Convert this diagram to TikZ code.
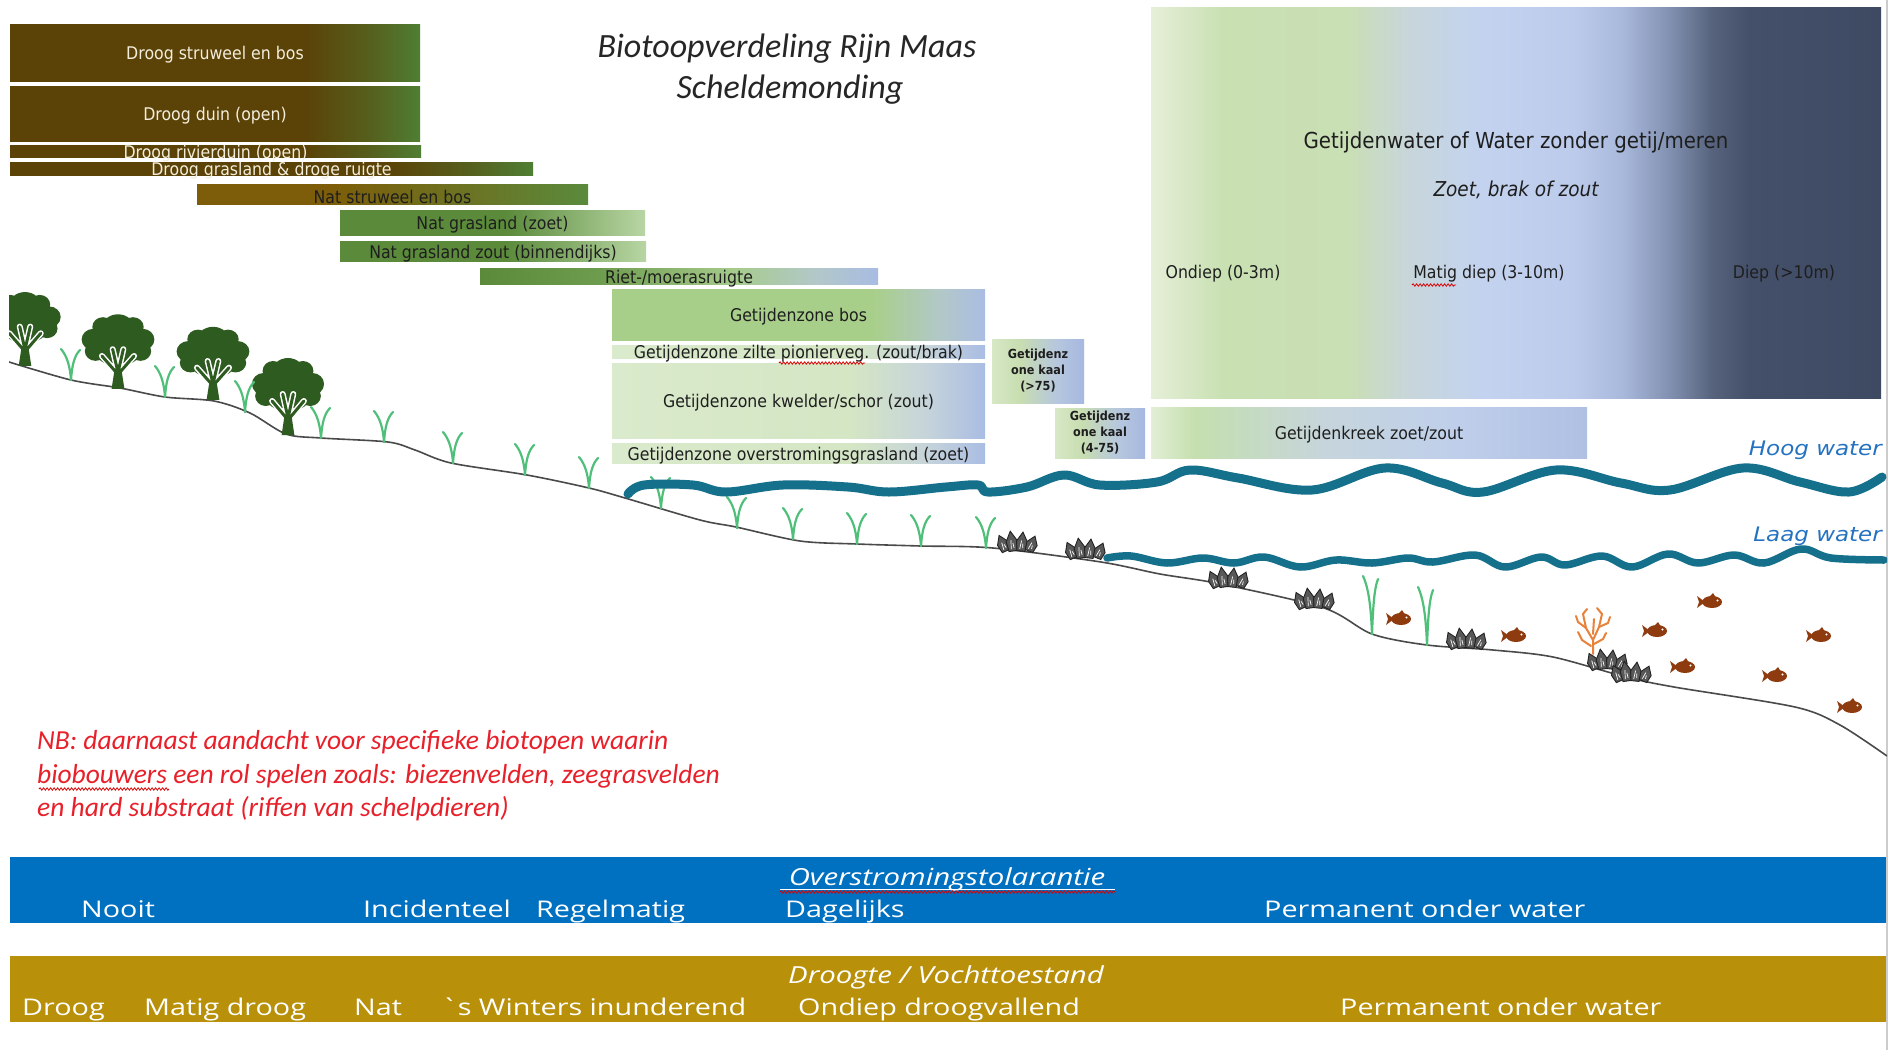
\documentclass[tikz,border=0pt]{standalone}
\usepackage{fontspec}
\setmainfont{DejaVu Sans}
\newfontfamily\zonefont[FakeStretch=0.9]{DejaVu Sans}
\newfontfamily\tidefont[FakeStretch=1.15]{DejaVu Sans}
\newfontfamily\notefont{Carlito}
\newfontfamily\barfont[FakeStretch=1.25]{Open Sans}
\usetikzlibrary{decorations.pathmorphing}

% ---------- colours ----------
\definecolor{ink}{HTML}{1E1E1E}
\definecolor{cream}{HTML}{F3EEDC}
\definecolor{dryBrown}{HTML}{5B4207}
\definecolor{dryMid}{HTML}{56601E}
\definecolor{dryGreen}{HTML}{4F7E33}
\definecolor{shrubGold}{HTML}{7D5D09}
\definecolor{shrubMid}{HTML}{6B7424}
\definecolor{shrubGreen}{HTML}{5A8A3C}
\definecolor{grassDark}{HTML}{5A8A3A}
\definecolor{grassLight}{HTML}{B8D6A4}
\definecolor{reedA}{HTML}{6E9C4E}
\definecolor{reedMid}{HTML}{A6CB8C}
\definecolor{reedGrey}{HTML}{B2C8C8}
\definecolor{reedBlue}{HTML}{A8BCE2}
\definecolor{forestGreen}{HTML}{A8CF8A}
\definecolor{paleGreen}{HTML}{DAEACC}
\definecolor{paleGreenB}{HTML}{D4E6C4}
\definecolor{paleGrey}{HTML}{C6D4DA}
\definecolor{paleBlue}{HTML}{AABDE3}
\definecolor{bareA}{HTML}{D7E8C6}
\definecolor{bareB}{HTML}{C8DDB0}
\definecolor{bareC}{HTML}{B6C7DE}
\definecolor{bareD}{HTML}{A6B8E0}
\definecolor{creekA}{HTML}{E2EED5}
\definecolor{creekB}{HTML}{C5DFAF}
\definecolor{creekC}{HTML}{C6D5DC}
\definecolor{creekD}{HTML}{BFCFEB}
\definecolor{creekE}{HTML}{AFC0E3}
\definecolor{wA}{HTML}{E6EFD8}
\definecolor{wB}{HTML}{C8E0B2}
\definecolor{wC}{HTML}{C9DFB4}
\definecolor{wD}{HTML}{C8D6DA}
\definecolor{wE}{HTML}{C3D3EF}
\definecolor{wF}{HTML}{BCCBEB}
\definecolor{wG}{HTML}{A9B9DC}
\definecolor{wH}{HTML}{8291B1}
\definecolor{wI}{HTML}{56627C}
\definecolor{wJ}{HTML}{44506A}
\definecolor{wK}{HTML}{3E4A62}
\definecolor{treegreen}{HTML}{2E5B20}
\definecolor{bladegreen}{HTML}{4FBF7A}
\definecolor{tide}{HTML}{15708C}
\definecolor{tidetext}{HTML}{2472C0}
\definecolor{groundgrey}{HTML}{4A4A4A}
\definecolor{shellgray}{HTML}{585858}
\definecolor{shelldark}{HTML}{222222}
\definecolor{fishbrown}{HTML}{8E3B10}
\definecolor{coralorange}{HTML}{E8823A}
\definecolor{noteRed}{HTML}{E8202A}
\definecolor{floodblue}{HTML}{0070C0}
\definecolor{drygold}{HTML}{B8900A}

% ---------- gradients (box spans 25bp..75bp) ----------
\pgfdeclarehorizontalshading{shDry}{100bp}{color(0bp)=(dryBrown); color(25bp)=(dryBrown); color(61bp)=(dryBrown); color(69bp)=(dryMid); color(75bp)=(dryGreen); color(100bp)=(dryGreen)}
\pgfdeclarehorizontalshading{shShrub}{100bp}{color(0bp)=(shrubGold); color(25bp)=(shrubGold); color(42bp)=(shrubGold); color(60bp)=(shrubMid); color(75bp)=(shrubGreen); color(100bp)=(shrubGreen)}
\pgfdeclarehorizontalshading{shGrass}{100bp}{color(0bp)=(grassDark); color(25bp)=(grassDark); color(52bp)=(grassDark); color(75bp)=(grassLight); color(100bp)=(grassLight)}
\pgfdeclarehorizontalshading{shReed}{100bp}{color(0bp)=(grassDark); color(25bp)=(grassDark); color(40bp)=(reedA); color(57bp)=(reedMid); color(67bp)=(reedGrey); color(75bp)=(reedBlue); color(100bp)=(reedBlue)}
\pgfdeclarehorizontalshading{shForest}{100bp}{color(0bp)=(forestGreen); color(25bp)=(forestGreen); color(60bp)=(forestGreen); color(69bp)=(reedGrey); color(75bp)=(paleBlue); color(100bp)=(paleBlue)}
\pgfdeclarehorizontalshading{shPale}{100bp}{color(0bp)=(paleGreen); color(25bp)=(paleGreen); color(57bp)=(paleGreenB); color(67bp)=(paleGrey); color(75bp)=(paleBlue); color(100bp)=(paleBlue)}
\pgfdeclarehorizontalshading{shBare}{100bp}{color(0bp)=(bareA); color(25bp)=(bareA); color(40bp)=(bareB); color(60bp)=(bareC); color(75bp)=(bareD); color(100bp)=(bareD)}
\pgfdeclarehorizontalshading{shCreek}{100bp}{color(0bp)=(creekA); color(25bp)=(creekA); color(30bp)=(creekB); color(45bp)=(creekC); color(60bp)=(creekD); color(75bp)=(creekE); color(100bp)=(creekE)}
\pgfdeclarehorizontalshading{shWater}{100bp}{color(0bp)=(wA); color(25bp)=(wA); color(30bp)=(wB); color(38.5bp)=(wC); color(42.5bp)=(wD); color(47.5bp)=(wE); color(54bp)=(wF); color(57.25bp)=(wG); color(60.5bp)=(wH); color(63.5bp)=(wI); color(66bp)=(wJ); color(75bp)=(wK); color(100bp)=(wK)}

\tikzset{
  zone/.style={inner sep=0, outer sep=0, anchor=north west, shade},
  zonetext/.style={inner sep=0, text=ink, yshift=-2.5pt, font=\zonefont\fontsize{17.5}{21}\selectfont},
  drytext/.style={zonetext, text=cream},
  baretext/.style={inner sep=0, text=ink, align=center, font=\zonefont\bfseries\fontsize{12.5}{16}\selectfont},
  bigtext/.style={inner sep=0, text=ink, yshift=-2.5pt, font=\zonefont\fontsize{22}{26}\selectfont},
  titletext/.style={inner sep=0, text=black!85, anchor=base, font=\notefont\itshape\fontsize{34}{40}\selectfont},
  notetext/.style={inner sep=0, text=noteRed, anchor=base west, font=\notefont\itshape\fontsize{27.5}{33}\selectfont},
  tidelabel/.style={inner sep=0, text=tidetext, anchor=base east, font=\tidefont\itshape\fontsize{20}{24}\selectfont},
  bartext/.style={inner sep=0, text=white, anchor=base west, font=\barfont\fontsize{23}{28}\selectfont},
  bartitle/.style={inner sep=0, text=white, anchor=base, font=\barfont\itshape\fontsize{23.5}{28}\selectfont},
  squiggle/.style={draw=red!85!black, line width=0.8, decorate, decoration={snake, amplitude=1.2, segment length=3.5}},
  groundline/.style={draw=groundgrey, line width=1.6},
  hightide/.style={draw=tide, line width=9, line cap=round, line join=round},
  lowtide/.style={draw=tide, line width=7.5, line cap=round, line join=round},
  blade/.style={draw=bladegreen, line width=2.2, line cap=round},
  coralline/.style={draw=coralorange, line width=2, line cap=round, line join=round},
  treepic/.pic={
    \fill[treegreen]
      (0,-60) circle[radius=16] (-14,-63) circle[radius=10] (14,-63) circle[radius=10]
      (0,-67) circle[radius=9] (-23,-50) circle[radius=11] (23,-50) circle[radius=11]
      (-21,-38) circle[radius=10] (21,-38) circle[radius=10]
      (-9,-35) circle[radius=10] (9,-35) circle[radius=10] (0,-46) circle[radius=16];
    \draw[white, line width=6, line cap=round]
      (0,-14) -- (-15,-33) (0,-14) -- (15,-33) (0,-16) -- (-5,-40) (0,-16) -- (5,-40);
    \draw[treegreen, line width=3, line cap=round]
      (0,-14) -- (-15,-33) (0,-14) -- (15,-33) (0,-16) -- (-5,-40) (0,-16) -- (5,-40);
    \fill[treegreen] (-6,1) -- (6,1) -- (3.5,-17) -- (-3.5,-17) -- cycle;
  },
  grasspic/.pic={
    \draw[blade] (0,0) .. controls (-1,-14) and (-4,-24) .. (-10,-31);
    \draw[blade] (0,0) .. controls (1,-14) and (3,-24) .. (9,-30);
  },
  seagrasspic/.pic={
    \draw[blade] (0,0) .. controls (-1,-25) and (-3,-45) .. (-9,-58);
    \draw[blade] (0,0) .. controls (1,-25) and (2,-45) .. (6,-55);
  },
  musselpic/.pic={
    \foreach \a/\d/\h in {24/-12/17, 8/-5/20, -6/3/19, -22/11/16}{
      \filldraw[fill=shellgray, draw=shelldark, line width=0.9, shift={(\d,0)}, rotate=\a]
        (-4,0) -- (-5.5,-0.5*\h) -- (0,-\h) -- (5.5,-0.5*\h) -- (4,0) -- cycle;
      \draw[white, line width=0.7, shift={(\d,0)}, rotate=\a] (-1.5,-2) -- (-0.5,-0.55*\h) (1.5,-3) -- (1,-0.4*\h);
    }
  },
  fishpic/.pic={
    \fill[fishbrown] (0,0) ellipse[x radius=10, y radius=6];
    \fill[fishbrown] (-7,0) -- (-15,-6) -- (-13,0) -- (-15,6) -- cycle;
    \fill[fishbrown] (-4,-4) -- (1,-9) -- (4,-4) -- cycle;
    \fill[white] (5.5,-1.5) circle[radius=1.2];
  },
  coralpic/.pic={
    \draw[coralline] (0,0) -- (0,-14) -- (-7,-26) -- (-10,-40);
    \draw[coralline] (0,-14) -- (6,-27) -- (9,-40);
    \draw[coralline] (-7,-26) -- (-15,-32) -- (-17,-38);
    \draw[coralline] (6,-27) -- (15,-31) -- (17,-37);
    \draw[coralline] (-2,-8) -- (-11,-14) -- (-15,-22);
    \draw[coralline] (1,-10) -- (10,-15) -- (13,-21);
    \draw[coralline] (-10,-40) -- (-6,-45);
    \draw[coralline] (9,-40) -- (4,-46);
    \draw[coralline] (0,-20) -- (1,-35);
  }
}

\begin{document}
\begin{tikzpicture}[x=1pt,y=-1pt]
\useasboundingbox (0,0) rectangle (1896,1050);
\fill[white] (0,0) rectangle (1896,1050);
\draw[black!20, line width=1.5] (1887,0) -- (1887,1050);

% ---------- title ----------
\node[titletext] (title1) at (787,57) {Biotoopverdeling Rijn Maas};
\node[titletext] (title2) at (790,98) {Scheldemonding};

% ---------- dry and wet land biotopes ----------
\node[zone, shading=shDry, minimum width=410, minimum height=57] (dry1) at (10,24) {};
\node[zone, shading=shDry, minimum width=410, minimum height=55] (dry2) at (10,86) {};
\node[zone, shading=shDry, minimum width=411, minimum height=12] (dry3) at (10,145) {};
\node[zone, shading=shDry, minimum width=523, minimum height=13] (dry4) at (10,162) {};
\node[zone, shading=shShrub, minimum width=391, minimum height=20] (wet1) at (197,184) {};
\node[zone, shading=shGrass, minimum width=305, minimum height=25] (wet2) at (340,210) {};
\node[zone, shading=shGrass, minimum width=306, minimum height=20] (wet3) at (340,241) {};
\node[zone, shading=shReed, minimum width=398, minimum height=16] (reed) at (480,268) {};

\node[drytext] (dry1t) at (dry1.center) {Droog struweel en bos};
\node[drytext] (dry2t) at (dry2.center) {Droog duin (open)};
\node[drytext] (dry3t) at (dry3.center) {Droog rivierduin (open)};
\node[drytext] (dry4t) at (dry4.center) {Droog grasland \& droge ruigte};
\node[zonetext] (wet1t) at (wet1.center) {Nat struweel en bos};
\node[zonetext] (wet2t) at (wet2.center) {Nat grasland (zoet)};
\node[zonetext] (wet3t) at (wet3.center) {Nat grasland zout (binnendijks)};
\node[zonetext] (reedt) at (reed.center) {Riet-/moerasruigte};

% ---------- tidal zone biotopes ----------
\node[zone, shading=shForest, minimum width=373, minimum height=51] (tbos) at (612,289) {};
\node[zone, shading=shPale, minimum width=373, minimum height=13] (tpio) at (612,345) {};
\node[zone, shading=shPale, minimum width=373, minimum height=75] (tkw) at (612,363) {};
\node[zone, shading=shPale, minimum width=373, minimum height=20] (tover) at (612,443) {};
\node[zone, shading=shBare, minimum width=92, minimum height=64] (bare1) at (992,339) {};
\node[zone, shading=shBare, minimum width=90, minimum height=50] (bare2) at (1055,408) {};

\node[zonetext] (tbost) at (tbos.center) {Getijdenzone bos};
\node[zonetext] (tpiot) at (tpio.center) {Getijdenzone zilte pionierveg. (zout/brak)};
\node[zonetext] (tkwt) at (tkw.center) {Getijdenzone kwelder/schor (zout)};
\node[zonetext] (tovert) at (tover.center) {Getijdenzone overstromingsgrasland (zoet)};
\node[baretext] (bare1t) at (bare1.center) {Getijdenz\\one kaal\\(>75)};
\node[baretext] (bare2t) at (bare2.center) {Getijdenz\\one kaal\\(4-75)};

% ---------- open water ----------
\node[zone, shading=shWater, minimum width=730, minimum height=391] (water) at (1151,7) {};
\node[zone, shading=shCreek, minimum width=436, minimum height=51] (creek) at (1151,407) {};
\node[bigtext] (watert) at (1516,140) {Getijdenwater of Water zonder getij/meren};
\node[bigtext, font=\zonefont\itshape\fontsize{20.5}{24}\selectfont] (watersalt) at (1516,187) {Zoet, brak of zout};
\node[zonetext] (depth1) at (1223,271) {Ondiep (0-3m)};
\node[zonetext] (depth2) at (1489,271) {Matig diep (3-10m)};
\node[zonetext] (depth3) at (1784,271) {Diep (>10m)};
\node[zonetext] (creekt) at (creek.center) {Getijdenkreek zoet/zout};

% spelling marks
\draw[squiggle] (779,363) -- (865,363);
\draw[squiggle] (1412,285) -- (1456,285);

% ---------- landscape profile ----------
\begin{scope}
\clip (9,0) rectangle (1887,850);
\draw[groundline] plot[smooth, tension=0.5] coordinates {
  (9,362) (71,380) (120,388) (165,397) (214,401) (250,413) (286,434) (321,438)
  (388,442) (415,450) (451,463) (527,475) (589,488) (625,498) (700,520) (736,527)
  (800,541) (857,544) (921,546) (993,548) (1101,562) (1160,574) (1221,584)
  (1324,608) (1372,634) (1427,645) (1493,650) (1553,657) (1626,677) (1674,687)
  (1795,707) (1840,725) (1887,756)};

\pic[xscale=1.05, yscale=0.96] at (25,365) {treepic};
\pic[xscale=1.07, yscale=0.97] at (118,388) {treepic};
\pic[xscale=1.07, yscale=0.95] at (213,399) {treepic};
\pic[xscale=1.06, yscale=1.0] at (288,434) {treepic};

\foreach \gx/\gy in {71/380, 165/397, 245/412, 321/438, 384/442, 453/463, 525/475,
                     589/488, 661/508, 737/528, 793/539, 857/544, 921/546, 986/548}
  \pic at (\gx,\gy) {grasspic};
\pic at (1372,634) {seagrasspic};
\pic at (1427,645) {seagrasspic};

\foreach \mx/\my in {1018/551, 1086/558, 1229/587, 1315/608, 1467/648, 1608/669, 1632/681}
  \pic at (\mx,\my) {musselpic};

\pic at (1593,654) {coralpic};

\foreach \fx/\fy in {1401/619, 1516/636, 1712/602, 1657/631, 1821/636, 1685/667, 1777/676, 1852/707}
  \pic at (\fx,\fy) {fishpic};

% high and low tide
\draw[hightide] plot[smooth, tension=0.6] coordinates {
  (628,494) (644,485) (693,485) (726,492) (783,485) (848,487) (889,492) (946,487)
  (978,485) (988,492) (1027,487) (1064,475) (1100,485) (1157,482) (1190,470)
  (1238,478) (1312,490) (1385,468) (1442,483) (1483,492) (1556,470) (1621,483)
  (1670,490) (1743,468) (1800,482) (1849,492) (1882,477)};
\draw[lowtide] plot[smooth, tension=0.6] coordinates {
  (1107,558) (1131,556) (1167,563) (1203,558) (1234,563) (1264,557) (1300,567)
  (1336,560) (1372,563) (1408,558) (1433,562) (1475,555) (1505,567) (1541,557)
  (1565,565) (1602,556) (1632,567) (1668,554) (1698,563) (1734,555) (1764,563)
  (1801,549) (1831,558) (1884,560)};
\end{scope}

\node[tidelabel] (hoog) at (1882,455) {Hoog water};
\node[tidelabel] (laag) at (1882,541) {Laag water};

% ---------- note ----------
\node[notetext] (note1) at (37,749) {NB: daarnaast aandacht voor specifieke biotopen waarin};
\node[notetext] (note2) at (37,783) {biobouwers een rol spelen zoals: biezenvelden, zeegrasvelden};
\node[notetext] (note3) at (37,816) {en hard substraat (riffen van schelpdieren)};
\draw[squiggle] (39,789) -- (169,789);

% ---------- scales along the gradient ----------
\node[zone, shade=false, fill=floodblue, minimum width=1876, minimum height=66] (flood) at (10,857) {};
\node[zone, shade=false, fill=drygold, minimum width=1876, minimum height=66] (moist) at (10,956) {};

\node[bartitle] (floodt) at (947,885) {Overstromingstolarantie};
\draw[white, line width=1] (780,889) -- (1115,889);
\draw[squiggle] (780,892) -- (1115,892);
\node[bartext] (f1) at (81,917) {Nooit};
\node[bartext] (f2) at (363,917) {Incidenteel};
\node[bartext] (f3) at (536,917) {Regelmatig};
\node[bartext] (f4) at (785,917) {Dagelijks};
\node[bartext] (f5) at (1264,917) {Permanent onder water};

\node[bartitle] (moistt) at (946,983) {Droogte / Vochttoestand};
\node[bartext] (m1) at (22,1015) {Droog};
\node[bartext] (m2) at (144,1015) {Matig droog};
\node[bartext] (m3) at (354,1015) {Nat};
\node[bartext] (m4) at (441,1015) {`s Winters inunderend};
\node[bartext] (m5) at (798,1015) {Ondiep droogvallend};
\node[bartext] (m6) at (1340,1015) {Permanent onder water};
\end{tikzpicture}
\end{document}
